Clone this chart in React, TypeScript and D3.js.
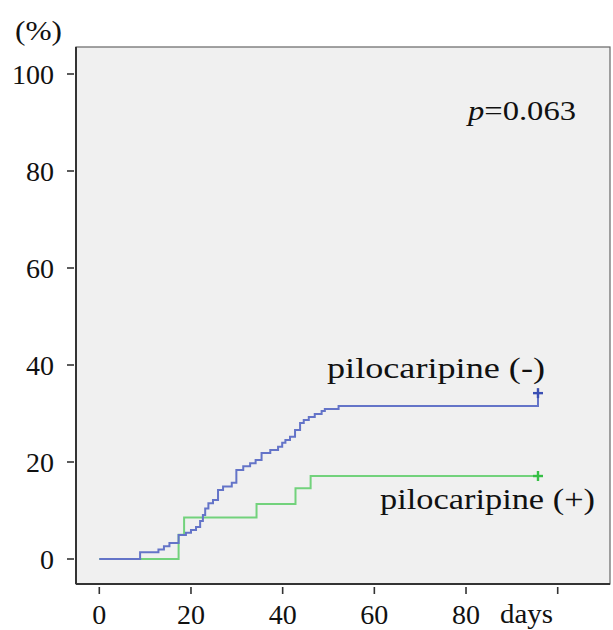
import React from "react";
import * as d3 from "d3";

const xTicks = [0, 20, 40, 60, 80, 100];
const xTickLabels = ["0", "20", "40", "60", "80", ""];
const yTicks = [0, 20, 40, 60, 80, 100];

// pilocarpine (-) : cumulative incidence (%) by day
const blueDays = [0, 8.9, 12.9, 14.1, 15.3, 17.3, 18.9, 20.0, 21.1, 22.0, 22.6, 23.1, 23.8, 24.8, 25.9, 27.0, 28.9, 29.9, 31.4, 32.9, 34.1, 35.4, 37.3, 39.0, 39.9, 40.6, 41.6, 42.7, 43.8, 44.6, 45.7, 47.0, 48.5, 49.2, 52.2, 95.7];
const bluePct = [0, 1.38, 1.96, 2.62, 3.3, 4.95, 5.42, 5.98, 6.6, 7.84, 9.07, 10.41, 11.48, 12.16, 14.23, 14.95, 15.73, 18.35, 19.11, 19.73, 20.41, 21.86, 22.47, 23.15, 23.98, 24.54, 25.22, 26.6, 28.04, 28.66, 29.28, 29.9, 30.52, 30.93, 31.55, 34.2];

// pilocarpine (+)
const greenDays = [0, 17.3, 18.5, 34.3, 42.8, 46.1, 95.7];
const greenPct = [0, 5.0, 8.56, 11.34, 14.58, 17.11, 17.11];

const W = 613;
const H = 630;

export default function App() {
  const x = d3.scaleLinear().domain([0, 100]).range([99.3, 557.7]);
  const y = d3.scaleLinear().domain([0, 100]).range([559, 74]);

  const line = d3
    .line<[number, number]>()
    .x((d) => x(d[0]))
    .y((d) => y(d[1]))
    .curve(d3.curveStepAfter);

  const blue: [number, number][] = blueDays.map((d, i) => [d, bluePct[i]]);
  const green: [number, number][] = greenDays.map((d, i) => [d, greenPct[i]]);
  const bEnd = blue[blue.length - 1];
  const gEnd = green[green.length - 1];

  const boxL = 76, boxR = 610, boxT = 47, boxB = 584;
  const tf: React.CSSProperties = {
    fontFamily: '"Liberation Serif", "Times New Roman", "DejaVu Serif", serif',
  };

  const plus = (cx: number, cy: number, color: string) => (
    <g stroke={color} strokeWidth={2.4}>
      <line x1={cx - 5} x2={cx + 5} y1={cy} y2={cy} />
      <line x1={cx} x2={cx} y1={cy - 5} y2={cy + 5} />
    </g>
  );

  return (
    <svg
      width={W}
      height={H}
      style={{ position: "absolute", left: 0, top: 0, background: "#ffffff" }}
    >
      <rect x={boxL} y={boxT} width={boxR - boxL} height={boxB - boxT} fill="#f0f0f0" stroke="#666" strokeWidth={1.2} />
      <line x1={boxL} x2={boxL} y1={boxT} y2={boxB} stroke="#333" strokeWidth={2} />
      <line x1={boxL} x2={boxR} y1={boxB} y2={boxB} stroke="#333" strokeWidth={2} />

      {yTicks.map((t) => (
        <g key={"y" + t}>
          <line x1={67} x2={74} y1={y(t)} y2={y(t)} stroke="#333" strokeWidth={1.6} />
          <text x={54} y={y(t)} dy="0.35em" textAnchor="end" fontSize={28} fill="#111" style={tf}>
            {t}
          </text>
        </g>
      ))}
      {xTicks.map((t, i) => (
        <g key={"x" + t}>
          <line x1={x(t)} x2={x(t)} y1={587} y2={594} stroke="#333" strokeWidth={1.6} />
          {xTickLabels[i] && (
            <text x={x(t)} y={624} textAnchor="middle" fontSize={28} fill="#111" style={tf}>
              {xTickLabels[i]}
            </text>
          )}
        </g>
      ))}
      <text x={500} y={623} fontSize={28} fill="#111" style={tf} textLength={53} lengthAdjust="spacingAndGlyphs">days</text>
      <text x={15} y={40} fontSize={28} fill="#111" style={tf} textLength={47} lengthAdjust="spacingAndGlyphs">(%)</text>

      <path d={line(green) || ""} fill="none" stroke="#72d27c" strokeWidth={2} />
      <path d={line(blue) || ""} fill="none" stroke="#6474c8" strokeWidth={2} />
      {plus(x(bEnd[0]), y(bEnd[1]), "#3a4fb4")}
      {plus(x(gEnd[0]), y(gEnd[1]), "#36bf45")}

      <text x={468} y={120} fontSize={28} fill="#111" style={tf} textLength={108} lengthAdjust="spacingAndGlyphs">
        <tspan fontStyle="italic">p</tspan>=0.063
      </text>
      <text x={327} y={378} fontSize={30} fill="#111" style={tf} textLength={218} lengthAdjust="spacingAndGlyphs">pilocaripine (-)</text>
      <text x={380} y={509} fontSize={30} fill="#111" style={tf} textLength={215} lengthAdjust="spacingAndGlyphs">pilocaripine (+)</text>
    </svg>
  );
}
